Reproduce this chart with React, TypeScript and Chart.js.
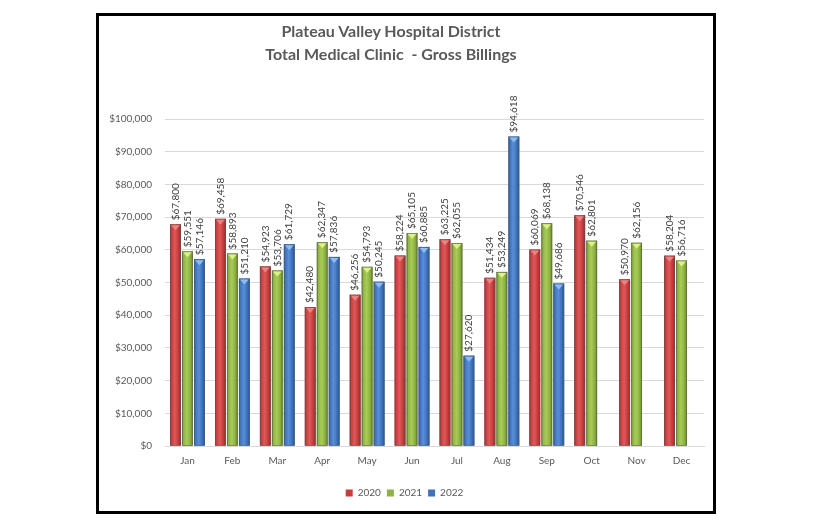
import React, { useEffect, useRef } from 'react';
import { Chart, registerables } from 'chart.js';
Chart.register(...registerables);

const months = ['Jan', 'Feb', 'Mar', 'Apr', 'May', 'Jun', 'Jul', 'Aug', 'Sep', 'Oct', 'Nov', 'Dec'];
const billings2020 = [67800, 69458, 54923, 42480, 46256, 58224, 63225, 51434, 60069, 70546, 50970, 58204];
const billings2021 = [59551, 58893, 53706, 62347, 54793, 65105, 62055, 53249, 68138, 62801, 62156, 56716];
const billings2022 = [57146, 51210, 61729, 57836, 50245, 60885, 27620, 94618, 49686, null, null, null];
const seriesNames = ['2020', '2021', '2022'];
const titleLines = ['Plateau Valley Hospital District', 'Total Medical Clinic  - Gross Billings'];

const palette = [
  { base: '#C93C3C', dark: '#982828', light: '#DC5A5A', tip: '#EC8282' },
  { base: '#8EB341', dark: '#6A8A2E', light: '#A9CC58', tip: '#DDF08A' },
  { base: '#3C72BE', dark: '#2A5594', light: '#5A8FD6', tip: '#8CBDF0' },
];

const fmt = (v: number) => '$' + v.toLocaleString('en-US');
const FONT = 'Lato, "Open Sans", sans-serif';

const bevelPlugin = {
  id: 'bevel',
  afterDatasetsDraw(chart: any) {
    const ctx = chart.ctx;
    chart.data.datasets.forEach((ds: any, di: number) => {
      const meta = chart.getDatasetMeta(di);
      const c = palette[di];
      meta.data.forEach((el: any, i: number) => {
        if (ds.data[i] == null) return;
        const { x, y, base, width } = el.getProps(['x', 'y', 'base', 'width'], true);
        const left = x - width / 2;
        const right = x + width / 2;
        const h = base - y;
        const g = ctx.createLinearGradient(left, 0, right, 0);
        g.addColorStop(0, c.dark);
        g.addColorStop(0.12, c.base);
        g.addColorStop(0.45, c.light);
        g.addColorStop(0.75, c.base);
        g.addColorStop(1, c.dark);
        ctx.save();
        ctx.fillStyle = g;
        ctx.fillRect(left, y, width, h);
        ctx.strokeStyle = 'rgba(90,90,90,0.55)';
        ctx.lineWidth = 1;
        ctx.strokeRect(left + 0.5, y + 0.5, width - 1, h - 0.5);
        ctx.fillStyle = c.tip;
        ctx.beginPath();
        ctx.moveTo(left + 1, y + 1);
        ctx.lineTo(right - 1, y + 1);
        ctx.lineTo(x, y + Math.min(6, h));
        ctx.closePath();
        ctx.fill();
        ctx.restore();
      });
    });
  },
};

const labelPlugin = {
  id: 'valueLabels',
  afterDatasetsDraw(chart: any) {
    const ctx = chart.ctx;
    ctx.save();
    ctx.font = '10px ' + FONT;
    ctx.fillStyle = '#404040';
    ctx.textAlign = 'left';
    ctx.textBaseline = 'middle';
    chart.data.datasets.forEach((ds: any, di: number) => {
      const meta = chart.getDatasetMeta(di);
      meta.data.forEach((el: any, i: number) => {
        const v = ds.data[i];
        if (v == null) return;
        const { x, y } = el.getProps(['x', 'y'], true);
        ctx.save();
        ctx.translate(x, y - 4);
        ctx.rotate(-Math.PI / 2);
        ctx.fillText(fmt(v), 0, 0);
        ctx.restore();
      });
    });
    ctx.restore();
  },
};

export default function App() {
  const ref = useRef<HTMLCanvasElement | null>(null);
  useEffect(() => {
    if (!ref.current) return;
    const series = [billings2020, billings2021, billings2022];
    const chart = new Chart(ref.current, {
      type: 'bar',
      data: {
        labels: months,
        datasets: series.map((d, i) => ({
          label: seriesNames[i],
          data: d,
          backgroundColor: palette[i].base,
          borderWidth: 0,
          categoryPercentage: 0.8,
          barPercentage: 0.9,
        })),
      },
      options: {
        responsive: false,
        animation: false,
        layout: { padding: { left: 105, right: 112, top: 119, bottom: 20 } },
        scales: {
          x: {
            grid: { display: false, drawTicks: false },
            border: { display: true, color: '#D9D9D9', width: 1 },
            ticks: { color: '#595959', font: { size: 10, family: FONT }, padding: 9 },
            afterFit: (s: any) => { s.height = 36; },
          },
          y: {
            min: 0,
            max: 100000,
            grid: { color: '#D9D9D9', drawTicks: false },
            border: { display: false },
            ticks: {
              stepSize: 10000,
              color: '#595959',
              font: { size: 10, family: FONT },
              padding: 13,
              callback: (v: any) => fmt(Number(v)),
            },
            afterFit: (s: any) => { s.width = 60; },
          },
        },
        plugins: {
          title: { display: false },
          legend: {
            position: 'bottom',
            labels: {
              boxWidth: 7,
              boxHeight: 7,
              padding: 6,
              color: '#595959',
              font: { size: 10, family: FONT },
            },
          },
          tooltip: { enabled: false },
        },
      },
      plugins: [bevelPlugin, labelPlugin],
    } as any);
    return () => chart.destroy();
  }, []);

  return (
    <div style={{ position: 'absolute', left: 0, top: 0, width: 816, height: 528, background: '#fff' }}>
      <div style={{ position: 'absolute', left: 96, top: 13, width: 614, height: 495, border: '3px solid #000' }} />
      <canvas ref={ref} width={816} height={528} style={{ position: 'absolute', left: 0, top: 0 }} />
      <div
        style={{
          position: 'absolute',
          left: 96,
          top: 19,
          width: 590,
          textAlign: 'center',
          fontFamily: FONT,
          fontWeight: 'bold',
          fontSize: 16,
          lineHeight: '23px',
          color: '#595959',
        }}
      >
        {titleLines.map((t) => (
          <div key={t} style={{ whiteSpace: 'pre' }}>{t}</div>
        ))}
      </div>
    </div>
  );
}
